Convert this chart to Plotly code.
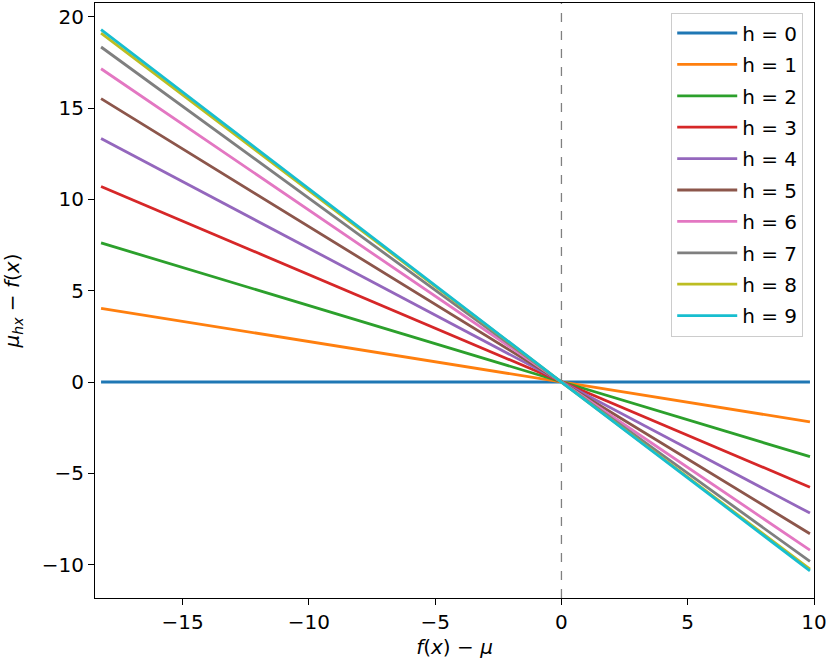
import plotly.graph_objects as go

# data
h_values = [0, 1, 2, 3, 4, 5, 6, 7, 8, 9]
x_points = [-18.23, 0.0, 9.84]
y_left = [0.0, 4.04, 7.62, 10.71, 13.34, 15.52, 17.16, 18.35, 19.11, 19.30]
y_right = [0.0, -2.18, -4.09, -5.76, -7.18, -8.31, -9.21, -9.83, -10.25, -10.34]
colors = ["#1f77b4", "#ff7f0e", "#2ca02c", "#d62728", "#9467bd",
          "#8c564b", "#e377c2", "#7f7f7f", "#bcbd22", "#17becf"]
x_ticks = [-15, -10, -5, 0, 5, 10]
y_ticks = [-10, -5, 0, 5, 10, 15, 20]
x_range = [-18.47, 10.0]
y_range = [-11.83, 20.76]

FONT = "DejaVu Sans"
fig = go.Figure()
for i, h in enumerate(h_values):
    fig.add_trace(go.Scatter(
        x=x_points, y=[y_left[i], 0.0, y_right[i]], mode="lines",
        line=dict(color=colors[i], width=2.8),
        name=f"h = {h}", legendgroup=f"g{h}"))

fig.add_shape(type="line", x0=0, x1=0, y0=0, y1=1, xref="x", yref="paper",
              line=dict(color="#808080", width=1.3, dash="dash"), layer="below")

axis_common = dict(showgrid=False, zeroline=False, showline=True, mirror=True,
                   linecolor="black", linewidth=1.1, ticks="outside", ticklen=6,
                   tickwidth=1.1, tickcolor="black", automargin=False,
                   tickfont=dict(family=FONT, size=20, color="black"))
fig.update_xaxes(range=x_range, tickvals=x_ticks, **axis_common,
                 title=dict(text="<i>f</i>(<i>x</i>) − <i>μ</i>",
                            font=dict(family=FONT, size=20, color="black"),
                            standoff=6))
fig.update_yaxes(range=y_range, tickvals=y_ticks, **axis_common,
                 title=dict(text="<i>μ<sub>hx</sub></i> − <i>f</i>(<i>x</i>)",
                            font=dict(family=FONT, size=20, color="black"),
                            standoff=18))

fig.update_layout(
    width=831, height=669,
    margin=dict(l=95, r=17, t=3, b=71),
    plot_bgcolor="white", paper_bgcolor="white",
    font=dict(family=FONT, color="black"),
    legend=dict(x=0.985, y=0.984, xanchor="right", yanchor="top",
                bgcolor="rgba(255,255,255,0.8)", bordercolor="#cccccc",
                borderwidth=1, font=dict(family=FONT, size=20),
                tracegroupgap=2.4, itemwidth=60),
)
fig.write_html("out.html", config={"displayModeBar": False},
               post_script="document.body.style.margin='0';")
